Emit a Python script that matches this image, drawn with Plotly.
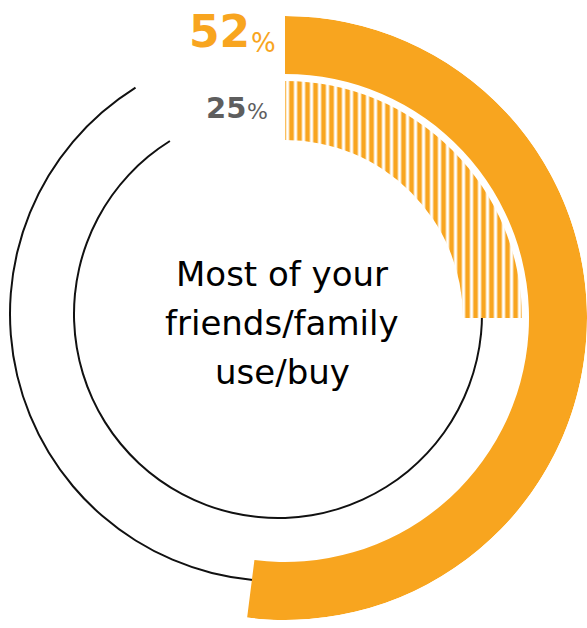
import math
import plotly.graph_objects as go

# ---- chart values ----
CENTER_LINES = ["Most of your", "friends/family", "use/buy"]
OUTER_PCT = 52          # outer ring share (%)
INNER_PCT = 25          # inner ring share (%)
PCT_SUFFIX = "%"
TRACK_GAP_DEG = 32      # open gap at the end of each track, room for the labels

# ---- canvas / style ----
W, H = 587, 628
ORANGE = "#F8A51F"
GREY = "#5E5E5E"
INK = "#111111"
DEG_PER_PCT = 3.6


def px(x):
    return x / W


def py(y):
    return 1 - y / H


def sector_bbox(sector):
    """Unit-circle bounding box of a polar sector (same rule plotly.js uses)."""
    s0, s1 = sector
    a0 = s0 % 360
    a1 = a0 + (s1 - s0)
    c0, n0 = math.cos(math.radians(a0)), math.sin(math.radians(a0))
    c1, n1 = math.cos(math.radians(a1)), math.sin(math.radians(a1))
    if (a0 <= 90 and a1 >= 90) or (a0 > 90 and a1 >= 450):
        y1 = 1
    elif n0 <= 0 and n1 <= 0:
        y1 = 0
    else:
        y1 = max(n0, n1)
    if (a0 <= 180 and a1 >= 180) or (a0 > 180 and a1 >= 540):
        x0 = -1
    elif c0 >= 0 and c1 >= 0:
        x0 = 0
    else:
        x0 = min(c0, c1)
    if (a0 <= 270 and a1 >= 270) or (a0 > 270 and a1 >= 630):
        y0 = -1
    elif n0 >= 0 and n1 >= 0:
        y0 = 0
    else:
        y0 = min(n0, n1)
    if a1 >= 360:
        x1 = 1
    elif c0 <= 0 and c1 <= 0:
        x1 = 0
    else:
        x1 = max(c0, c1)
    return x0, y0, x1, y1


def polar_domain(cx, cy, radius, sector=(0, 360)):
    """Domain placing the polar centre at (cx, cy) px with the given px radius."""
    x0, y0, x1, y1 = sector_bbox(sector)
    clamp = lambda v: min(1.0, max(0.0, v))
    return dict(
        x=[clamp(px(cx + radius * x0)), clamp(px(cx + radius * x1))],
        y=[clamp(py(cy - radius * y0)), clamp(py(cy - radius * y1))],
    )


def polar_layout(cx, cy, radius, sector=(0, 360)):
    return dict(
        domain=polar_domain(cx, cy, radius, sector),
        sector=list(sector),
        bgcolor="rgba(0,0,0,0)",
        hole=0,
        radialaxis=dict(visible=False, range=[0, radius]),
        angularaxis=dict(visible=False, rotation=90, direction="clockwise"),
    )


# ring geometry (px)
RING_C = (285, 318)
RING_R = 302
OUTER_BAND = (244, 302)
INNER_BAND = (178, 237)
OUTER_TRACK = dict(c=(277, 314), r=267)
INNER_TRACK = dict(c=(278, 314), r=204)
TRACK_W = 2

fig = go.Figure()


def add_track(pct, track, subplot):
    start = pct * DEG_PER_PCT - 2
    end = 360 - TRACK_GAP_DEG
    fig.add_trace(go.Barpolar(
        subplot=subplot,
        theta=[(start + end) / 2],
        width=[end - start],
        base=[track["r"] - TRACK_W / 2],
        r=[TRACK_W],
        marker=dict(color=INK, line=dict(width=0)),
        hoverinfo="skip",
    ))


# thin remainder tracks (drawn first, beneath the bars)
add_track(OUTER_PCT, OUTER_TRACK, "polar")
add_track(INNER_PCT, INNER_TRACK, "polar2")

# outer solid band
fig.add_trace(go.Barpolar(
    subplot="polar3",
    theta=[OUTER_PCT * DEG_PER_PCT / 2],
    width=[OUTER_PCT * DEG_PER_PCT],
    base=[OUTER_BAND[0]],
    r=[OUTER_BAND[1] - OUTER_BAND[0]],
    marker=dict(color=ORANGE, line=dict(width=0)),
    hoverinfo="skip",
))

# inner striped band
fig.add_trace(go.Barpolar(
    subplot="polar3",
    theta=[INNER_PCT * DEG_PER_PCT / 2],
    width=[INNER_PCT * DEG_PER_PCT],
    base=[INNER_BAND[0]],
    r=[INNER_BAND[1] - INNER_BAND[0]],
    marker=dict(
        color=ORANGE,
        line=dict(width=0),
        pattern=dict(shape="|", size=8, solidity=0.6, fillmode="replace",
                     fgcolor=ORANGE, bgcolor="white"),
    ),
    hoverinfo="skip",
))

ring_sector = (90 - OUTER_PCT * DEG_PER_PCT - 3, 90)

annotations = []


def note(text, x, y, size, color, xanchor, bold=False):
    annotations.append(dict(
        text=text, x=px(x), y=py(y), xref="paper", yref="paper",
        xanchor=xanchor, yanchor="middle", showarrow=False, borderpad=0,
        font=dict(family="DejaVu Sans", size=size, color=color,
                  weight="bold" if bold else "normal"),
    ))


# value labels
note(str(OUTER_PCT), 251, 31, 44, ORANGE, "right", bold=True)
note(PCT_SUFFIX, 250, 43, 26, ORANGE, "left")
note(str(INNER_PCT), 247, 108, 29, GREY, "right", bold=True)
note(PCT_SUFFIX, 246, 112, 22, GREY, "left")

# centre caption
for i, line in enumerate(CENTER_LINES):
    note(line, 282, 274 + i * 49, 34, "#000000", "center")

fig.update_layout(
    width=W, height=H,
    margin=dict(l=0, r=0, t=0, b=0),
    paper_bgcolor="white",
    plot_bgcolor="white",
    showlegend=False,
    template="none",
    polar=polar_layout(*OUTER_TRACK["c"], OUTER_TRACK["r"] + 2),
    polar2=polar_layout(*INNER_TRACK["c"], INNER_TRACK["r"] + 2),
    polar3=polar_layout(*RING_C, RING_R, ring_sector),
    annotations=annotations,
)

fig.write_html("out.html")
